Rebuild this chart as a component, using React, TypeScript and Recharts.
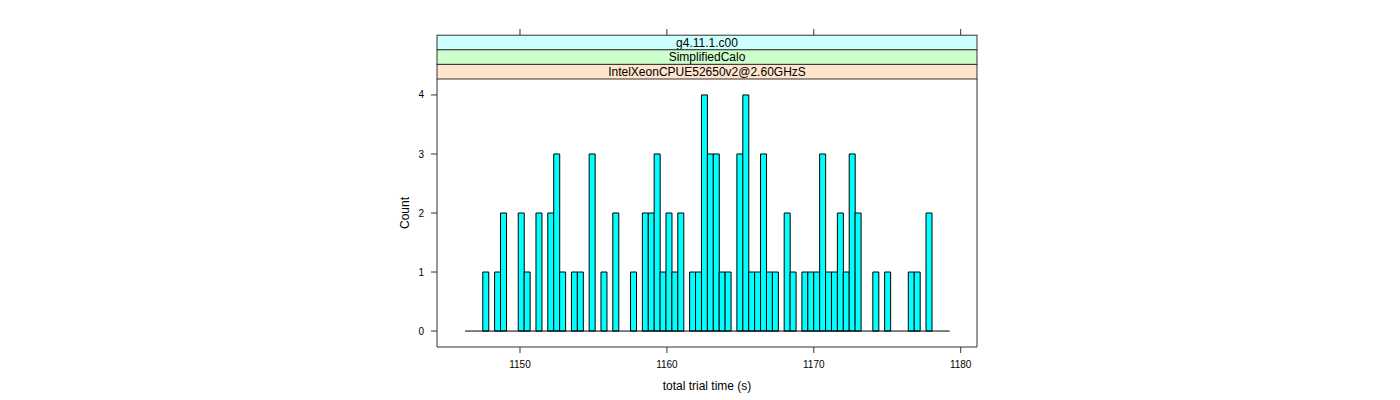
import React from 'react';
import { ComposedChart, Bar, XAxis, YAxis, ReferenceLine } from 'recharts';

// histogram of total trial time, lattice style (cyan bars, coloured strips)

const BIN_START = 1146.26; // first break (s)
const BIN_WIDTH = 0.4023;  // break spacing (s)

// counts per bin, left to right
const COUNTS = [
  0, 0, 0, 1, 0, 1, 2, 0, 0, 2,
  1, 0, 2, 0, 2, 3, 1, 0, 1, 1,
  0, 3, 0, 1, 0, 2, 0, 0, 1, 0,
  2, 2, 3, 1, 2, 1, 2, 0, 1, 1,
  4, 3, 3, 1, 1, 0, 3, 4, 1, 1,
  3, 1, 1, 0, 2, 1, 0, 1, 1, 1,
  3, 1, 1, 2, 1, 3, 2, 0, 0, 1,
  0, 1, 0, 0, 0, 1, 1, 0, 2, 0,
  0, 0,
];

const X_TICKS = [1150, 1160, 1170, 1180];
const Y_TICKS = [0, 1, 2, 3, 4];

// strips, top to bottom
const STRIP_LABELS = ['g4.11.1.c00', 'SimplifiedCalo', 'IntelXeonCPUE52650v2@2.60GHzS'];
const STRIP_COLORS = ['#ccffff', '#ccffcc', '#ffe5cc'];

const X_LABEL = 'total trial time (s)';
const Y_LABEL = 'Count';

const data = COUNTS.map((c, i) => ({ x: BIN_START + (i + 0.5) * BIN_WIDTH, count: c }));
const binEnd = BIN_START + COUNTS.length * BIN_WIDTH;

const AXIS_COL = '#333333';
const FONT = '"Liberation Sans", Arial, Helvetica, sans-serif';

// panel box in page pixels
const PANEL = { left: 437, right: 977, top: 79, bottom: 347 };
const STRIP_H = 14.6;
const TOP_AXIS_H = 30;

// tick marks sit above the strips, like lattice's top axis
const TopTick = (props: any) => (
  <line x1={props.x} x2={props.x} y1={29} y2={35.5} stroke={AXIS_COL} strokeWidth={1} />
);

export default function App() {
  const stripTop = PANEL.top - STRIP_H * STRIP_LABELS.length;
  const cx = (PANEL.left + PANEL.right) / 2;
  const cy = (PANEL.top + PANEL.bottom) / 2;
  return (
    <div style={{ position: 'absolute', left: 0, top: 0, width: 1400, height: 400, background: '#fff', fontFamily: FONT }}>
      <ComposedChart
        width={1400}
        height={400}
        data={data}
        barCategoryGap={0}
        barGap={0}
        margin={{
          top: PANEL.top - TOP_AXIS_H,
          left: PANEL.left - 40,
          right: 1400 - PANEL.right - 10,
          bottom: 400 - PANEL.bottom - 40,
        }}
      >
        <XAxis
          xAxisId="top"
          orientation="top"
          dataKey="x"
          type="number"
          domain={[1144.35, 1181.11]}
          ticks={X_TICKS}
          interval={0}
          height={TOP_AXIS_H}
          axisLine={false}
          tickLine={false}
          tick={(p: any) => <TopTick {...p} />}
          allowDataOverflow
        />
        <XAxis
          xAxisId="bottom"
          dataKey="x"
          type="number"
          domain={[1144.35, 1181.11]}
          ticks={X_TICKS}
          interval={0}
          height={40}
          tickSize={6}
          tickMargin={8}
          stroke={AXIS_COL}
          tick={{ fill: '#000', fontSize: 10 }}
          allowDataOverflow
        />
        <YAxis
          yAxisId="left"
          type="number"
          domain={[-0.27, 4.27]}
          ticks={Y_TICKS}
          interval={0}
          width={40}
          tickSize={6}
          tickMargin={7}
          stroke={AXIS_COL}
          tick={{ fill: '#000', fontSize: 10 }}
          allowDataOverflow
        />
        <YAxis
          yAxisId="right"
          orientation="right"
          type="number"
          domain={[-0.27, 4.27]}
          ticks={Y_TICKS}
          interval={0}
          width={10}
          tickSize={6}
          tick={false}
          stroke={AXIS_COL}
          allowDataOverflow
        />
        <ReferenceLine
          xAxisId="bottom"
          yAxisId="left"
          segment={[{ x: BIN_START, y: 0 }, { x: binEnd, y: 0 }]}
          stroke="#000"
          strokeWidth={1}
        />
        <Bar
          xAxisId="bottom"
          yAxisId="left"
          dataKey="count"
          fill="#00ffff"
          stroke="#000"
          strokeWidth={1}
          isAnimationActive={false}
        />
      </ComposedChart>
      <svg
        width={1400}
        height={400}
        style={{ position: 'absolute', left: 0, top: 0, pointerEvents: 'none', fontFamily: FONT }}
      >
        {STRIP_LABELS.map((s, i) => (
          <g key={s}>
            <rect
              x={PANEL.left}
              y={stripTop + i * STRIP_H}
              width={PANEL.right - PANEL.left}
              height={STRIP_H}
              fill={STRIP_COLORS[i]}
              stroke={AXIS_COL}
              strokeWidth={1}
            />
            <text
              x={cx}
              y={stripTop + i * STRIP_H + STRIP_H / 2}
              textAnchor="middle"
              dominantBaseline="central"
              fontSize={12}
              fill="#000"
            >
              {s}
            </text>
          </g>
        ))}
        <text x={cx} y={386} textAnchor="middle" dominantBaseline="central" fontSize={12} fill="#000">
          {X_LABEL}
        </text>
        <text
          x={405}
          y={cy}
          textAnchor="middle"
          dominantBaseline="central"
          fontSize={12}
          fill="#000"
          transform={`rotate(-90 405 ${cy})`}
        >
          {Y_LABEL}
        </text>
      </svg>
    </div>
  );
}
